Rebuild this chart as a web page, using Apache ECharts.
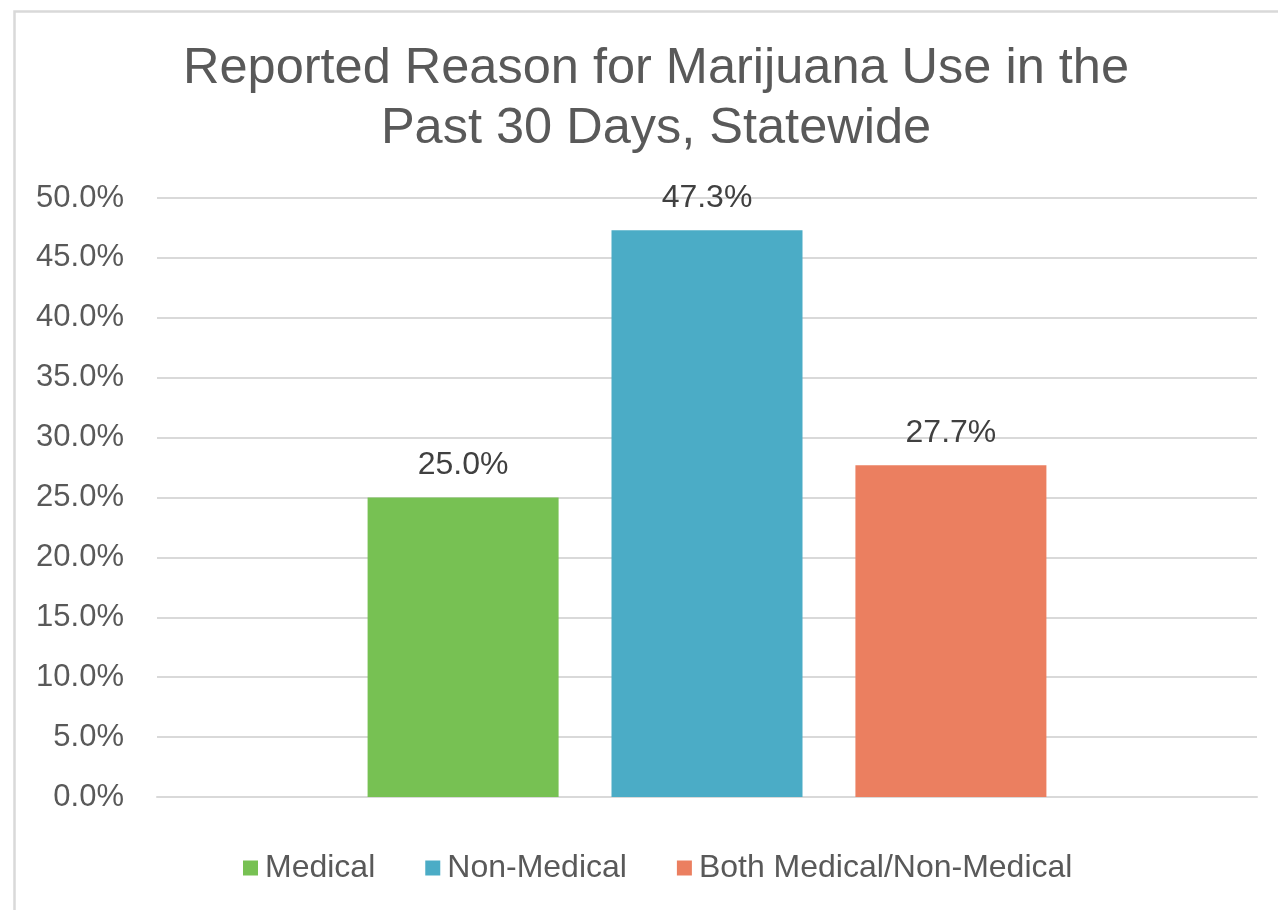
<!DOCTYPE html>
<html>
<head>
<meta charset="utf-8">
<script src="https://cdn.jsdelivr.net/npm/echarts@6/dist/echarts.min.js"></script>
<style>
html,body{margin:0;padding:0;background:#fff;}
#chart{width:1278px;height:910px;}
</style>
</head>
<body>
<div id="chart"></div>
<script>
const titleText = 'Reported Reason for Marijuana Use in the\nPast 30 Days, Statewide';
const categories = ['Statewide'];
const seriesNames = ['Medical', 'Non-Medical', 'Both Medical/Non-Medical'];
const medicalValues = [25.0];
const nonMedicalValues = [47.3];
const bothValues = [27.7];
const seriesColors = ['#77C153', '#4BACC6', '#EB7F60'];
const yTicks = [0, 5, 10, 15, 20, 25, 30, 35, 40, 45, 50];

const FONT = '"Liberation Sans", Arial, sans-serif';
const valuesList = [medicalValues, nonMedicalValues, bothValues];

const chart = echarts.init(document.getElementById('chart'), null, {renderer: 'canvas'});
chart.setOption({
  backgroundColor: '#ffffff',
  animation: false,
  graphic: [{
    type: 'rect',
    left: 12, top: 9,
    shape: {width: 1300, height: 950},
    style: {fill: 'none', stroke: '#d9d9d9', lineWidth: 2.5},
    silent: true
  }],
  title: {
    text: titleText,
    left: 651,
    textAlign: 'center',
    top: 34,
    textStyle: {
      fontFamily: FONT, fontSize: 50.5, fontWeight: 'normal',
      color: '#595959', lineHeight: 60
    }
  },
  legend: {
    left: 238,
    top: 847,
    itemWidth: 15,
    itemHeight: 15,
    itemGap: 50,
    icon: 'rect',
    selectedMode: false,
    textStyle: {fontFamily: FONT, fontSize: 32, color: '#595959', padding: [0, 0, 0, 2]},
    data: seriesNames
  },
  grid: {left: 157, right: 21, top: 198, bottom: 113, containLabel: false},
  xAxis: {
    type: 'category',
    data: categories,
    axisLine: {show: true, lineStyle: {color: '#d9d9d9', width: 2}},
    axisTick: {show: false},
    axisLabel: {show: false}
  },
  yAxis: {
    type: 'value',
    min: yTicks[0],
    max: yTicks[yTicks.length - 1],
    interval: 5,
    axisLine: {show: false},
    axisTick: {show: false},
    splitLine: {lineStyle: {color: '#d9d9d9', width: 2}},
    axisLabel: {
      fontFamily: FONT, fontSize: 31, color: '#595959', margin: 33,
      formatter: v => v.toFixed(1) + '%'
    }
  },
  series: seriesNames.map((name, i) => ({
    name: name,
    type: 'bar',
    data: valuesList[i],
    barWidth: 191,
    barGap: '27.7%',
    itemStyle: {color: seriesColors[i]},
    label: {
      show: true, position: 'top', distance: 16,
      fontFamily: FONT, fontSize: 32, color: '#404040',
      formatter: p => p.value.toFixed(1) + '%'
    }
  }))
});
</script>
</body>
</html>
